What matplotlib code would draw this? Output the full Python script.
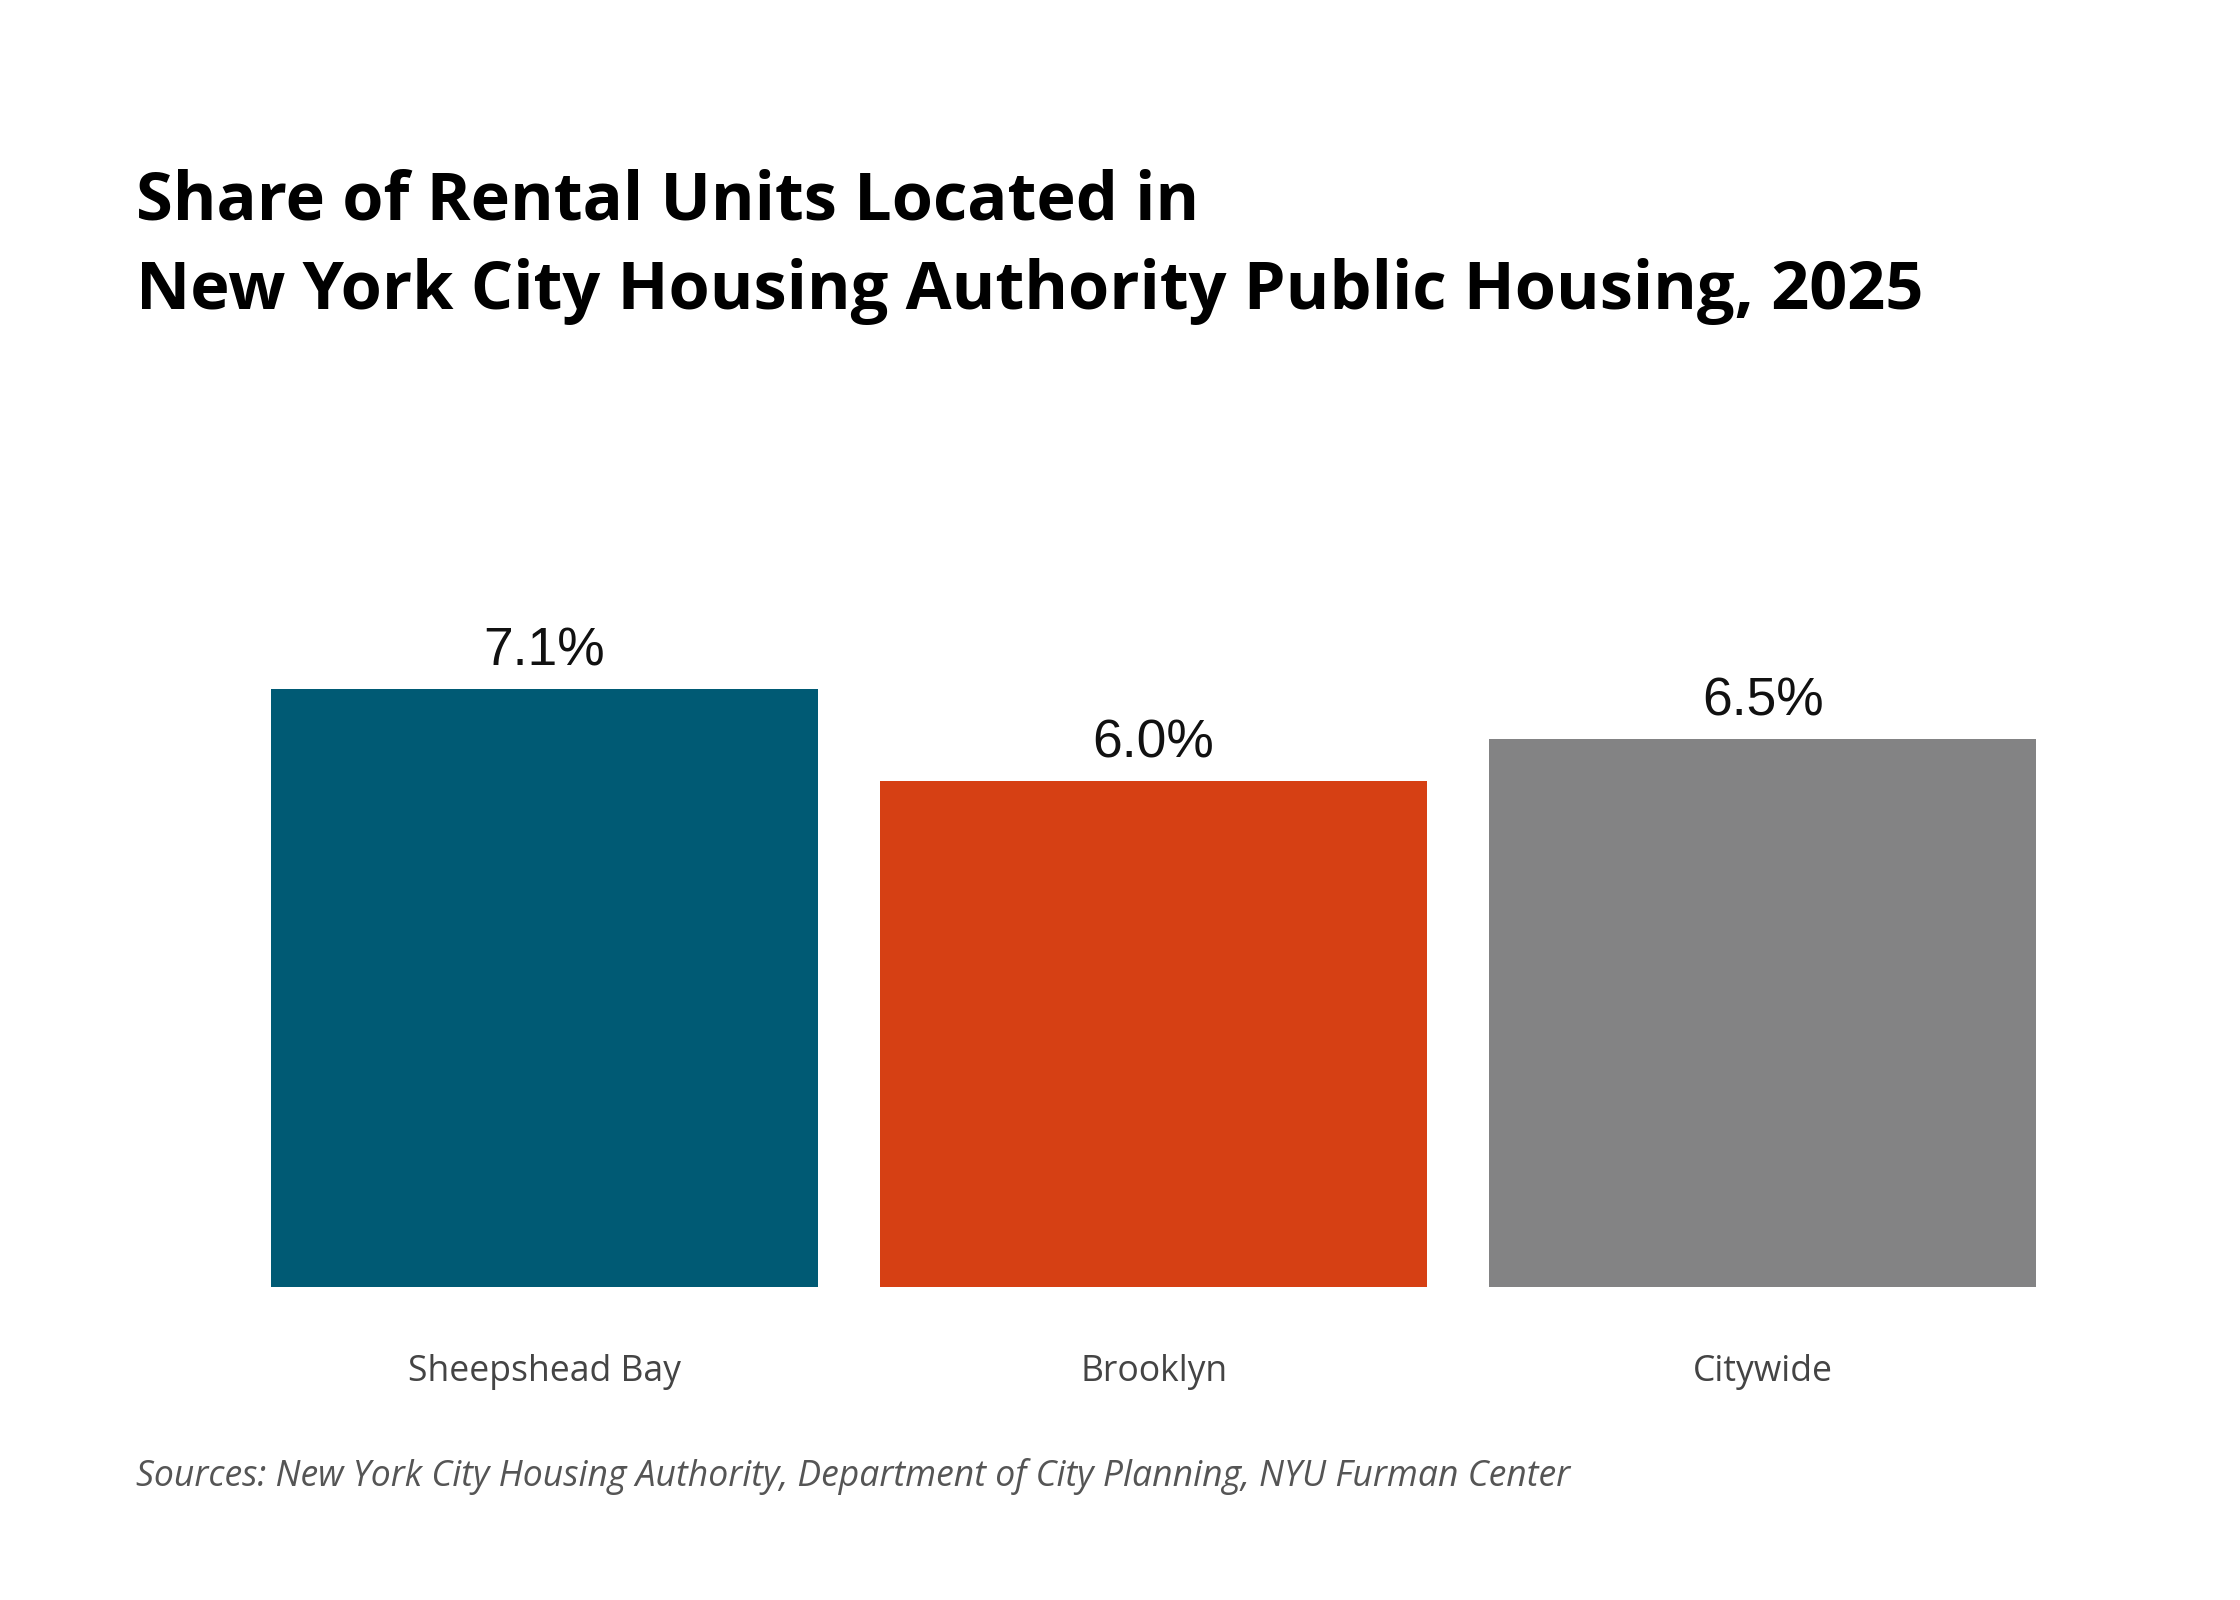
import matplotlib
matplotlib.use("Agg")
import matplotlib.pyplot as plt

categories = ["Sheepshead Bay", "Brooklyn", "Citywide"]
values = [7.1, 6.0, 6.5]
labels = ["7.1%", "6.0%", "6.5%"]
colors = ["#005a74", "#d64014", "#838384"]

fig = plt.figure(figsize=(14, 10), dpi=160)
ax = fig.add_axes([0.121, 0.1955, 0.788, 0.4215])
x = range(len(categories))
ax.bar(x, values, width=0.898, color=colors)
for i, (v, l) in enumerate(zip(values, labels)):
    ax.text(i, v + 0.15, l, ha="center", va="bottom", fontsize=24,
            family="Liberation Sans", color="#111111")
ax.set_xlim(-0.449, 2.449)
ax.set_ylim(0, 8)
ax.set_yticks([])
ax.set_xticks(list(x))
ax.set_xticklabels(categories, fontsize=16, color="#444444", family="Open Sans")
ax.tick_params(axis="x", length=0, pad=30)
for s in ax.spines.values():
    s.set_visible(False)

fig.text(0.0606, 0.895, "Share of Rental Units Located in\nNew York City Housing Authority Public Housing, 2025",
         fontsize=30, fontweight="bold", family="Open Sans", va="top", ha="left",
         linespacing=1.45, color="#000000")
fig.text(0.0606, 0.077, "Sources: New York City Housing Authority, Department of City Planning, NYU Furman Center",
         fontsize=16, style="italic", family="Open Sans", color="#555555", ha="left", va="center")
fig.savefig("out.png", dpi=160)
